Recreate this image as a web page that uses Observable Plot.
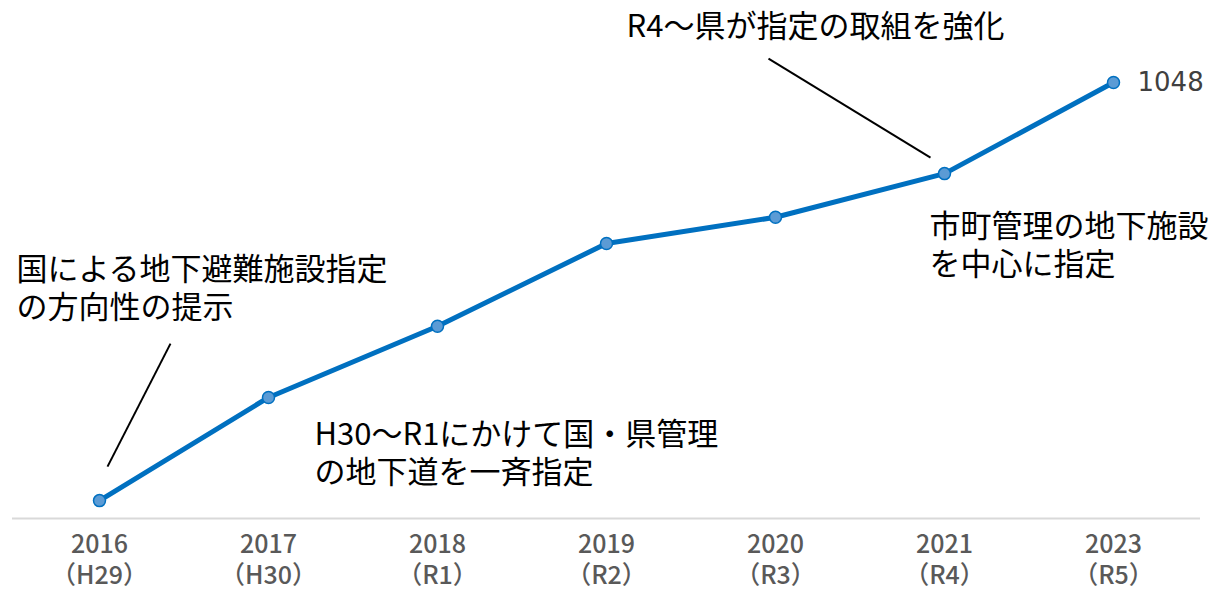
<!DOCTYPE html>
<html><head><meta charset="utf-8">
<script src="https://cdn.jsdelivr.net/npm/d3@7"></script>
<script src="https://cdn.jsdelivr.net/npm/@observablehq/plot@0.6"></script>
<style>
html,body{margin:0;padding:0;background:#fff;}
svg{overflow:visible;}
</style>
</head><body><div id="chart"></div>
<script>
const years = ["2016","2017","2018","2019","2020","2021","2023"];
const eras = ["H29","H30","R1","R2","R3","R4","R5"];
const counts = [43, 291, 462, 661, 724, 829, 1048];

const notes = [
  {year:"2016", value:43, text:"国による地下避難施設指定\nの方向性の提示", dx:-83, dy:-248},
  {year:"2018", value:462, text:"H30～R1にかけて国・県管理\nの地下道を一斉指定", dx:-123, dy:92},
  {year:"2021", value:829, text:"市町管理の地下施設\nを中心に指定", dx:-15, dy:36},
  {year:"2021", value:829, text:"R4～県が指定の取組を強化", dx:-318, dy:-164}
];
const leaders = [
  {year:"2016", value:43, x1:8, y1:-34, x2:71, y2:-157},
  {year:"2021", value:829, x1:-14, y1:-16, x2:-176, y2:-115}
];

const data = years.map((y,i)=>({year:y, era:eras[i], value:counts[i]}));
const last = data[data.length-1];

const chart = Plot.plot({
  width: 1222,
  height: 589,
  marginLeft: 12,
  marginRight: 22,
  marginTop: 82,
  marginBottom: 71,
  style: {fontFamily: "'Noto Sans CJK JP', 'Noto Sans', sans-serif", background: "#fff"},
  x: {type: "point", domain: years, padding: 0.5, label: null},
  y: {domain: [0, 1048], axis: null},
  marks: [
    Plot.ruleY([0], {stroke: "#d9d9d9", strokeWidth: 2}),
    Plot.axisX({
      tickSize: 0, tickPadding: 13, label: null, fontSize: 25, fill: "#595959", fontWeight: 500,
      lineHeight: 1.22,
      tickFormat: d => `${d}\n（${eras[years.indexOf(d)]}）`
    }),
    ...leaders.map(l => Plot.link([l], {
      x1: "year", y1: "value", x2: "year", y2: "value",
      render: (index, scales, values, dims, ctx, next) => {
        const g = next(index, scales, values, dims, ctx);
        d3.select(g).selectAll("path").attr("d", () => {
          const x = scales.x(l.year), y = scales.y(l.value);
          return `M${x + l.x1},${y + l.y1}L${x + l.x2},${y + l.y2}`;
        });
        return g;
      },
      stroke: "#000", strokeWidth: 2
    })),
    Plot.line(data, {x: "year", y: "value", stroke: "#0070c0", strokeWidth: 5, strokeLinejoin: "round"}),
    Plot.dot(data, {x: "year", y: "value", r: 6, fill: "#5b9bd5", stroke: "#0070c0", strokeWidth: 1.5}),
    Plot.text([last], {x: "year", y: "value", text: d => String(d.value), dx: 24, textAnchor: "start", fontSize: 26, fill: "#404040", fontFamily: "'DejaVu Sans', sans-serif"}),
    ...notes.map(n => Plot.text([n], {x: "year", y: "value", text: "text", dx: n.dx, dy: n.dy, textAnchor: "start", lineAnchor: "top", lineHeight: 1.23, fontSize: 31, fill: "#000"}))
  ]
});
document.getElementById("chart").append(chart);
</script>
</body></html>
